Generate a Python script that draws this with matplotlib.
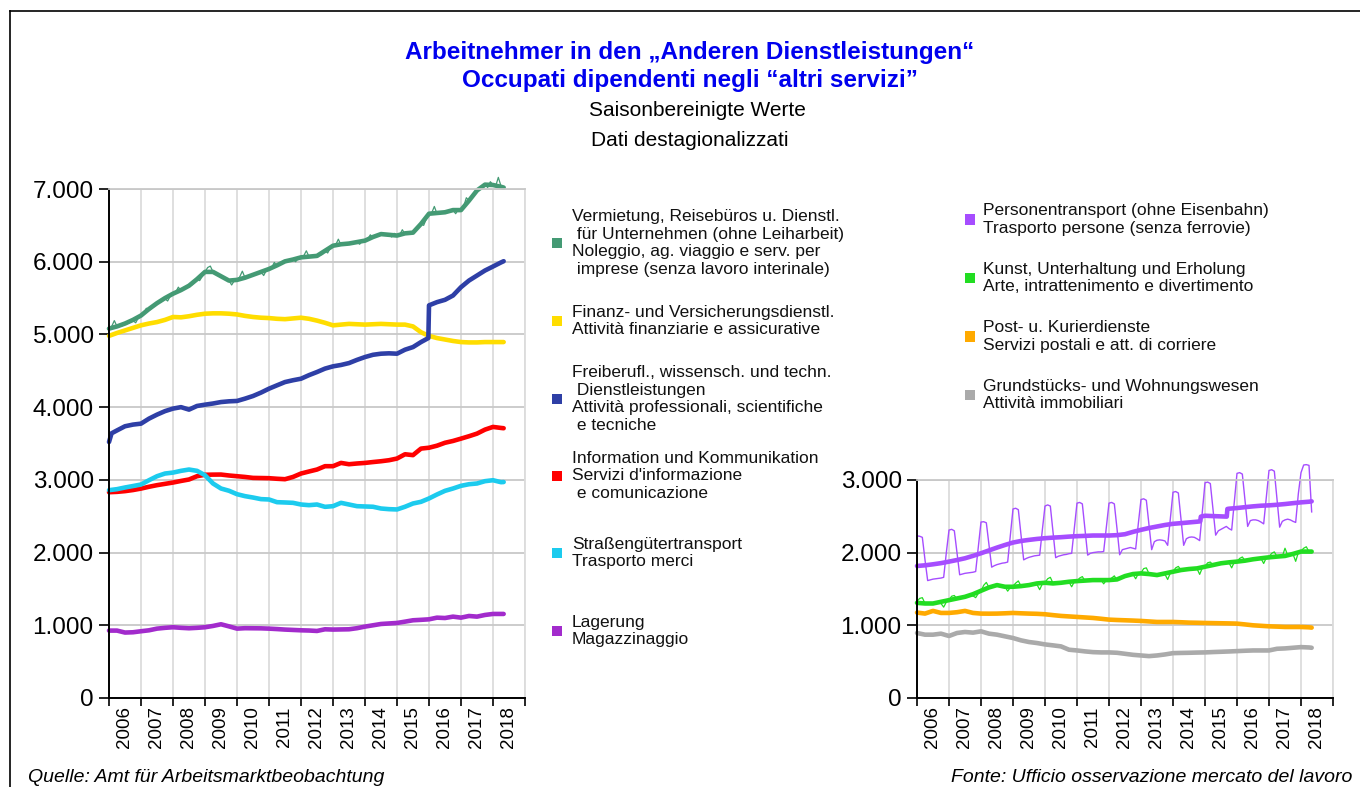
import numpy as np
import matplotlib
matplotlib.use('Agg')
import matplotlib.pyplot as plt
from matplotlib.patches import Rectangle
from matplotlib.lines import Line2D
from matplotlib.ticker import FuncFormatter, FixedLocator

plt.rcParams['font.family'] = ['Liberation Sans', 'DejaVu Sans']

W, H = 1360, 787

# ---- data (thousand employees, decimal years) ----
quarters = np.r_[2006 + np.arange(50) * 0.25, 2018 + 1 / 3]
months = 2006 + np.arange(149) / 12

# left panel, seasonally adjusted (quarterly readings)
verm = [5080, 5110, 5150, 5200, 5260, 5350, 5430, 5500, 5560, 5610, 5670, 5760,
        5860, 5860, 5800, 5740, 5750, 5780, 5820, 5860, 5900, 5950, 6005, 6030,
        6060, 6070, 6080, 6150, 6220, 6240, 6250, 6270, 6290, 6340, 6380, 6370,
        6360, 6390, 6400, 6520, 6660, 6670, 6680, 6710, 6710, 6840, 6980, 7060,
        7055, 7030, 7020]
finanz = [4980, 5020, 5055, 5090, 5125, 5150, 5170, 5200, 5240, 5235, 5250, 5270,
          5285, 5290, 5290, 5285, 5275, 5255, 5240, 5230, 5225, 5215, 5210, 5220,
          5230, 5215, 5190, 5160, 5125, 5135, 5145, 5140, 5135, 5140, 5145, 5140,
          5135, 5135, 5110, 5030, 4980, 4950, 4930, 4910, 4895, 4890, 4890, 4895,
          4895, 4895, 4895]
info = [2830, 2835, 2845, 2860, 2880, 2905, 2927, 2945, 2963, 2985, 3005, 3050,
        3070, 3072, 3073, 3060, 3050, 3040, 3027, 3025, 3023, 3015, 3009, 3040,
        3087, 3115, 3142, 3188, 3188, 3233, 3215, 3225, 3233, 3245, 3256, 3270,
        3293, 3352, 3340, 3430, 3442, 3470, 3510, 3535, 3567, 3600, 3636, 3691,
        3728, 3714, 3710]
strasse = [2858, 2872, 2895, 2915, 2936, 2995, 3050, 3087, 3100, 3124, 3142, 3124,
           3064, 2950, 2881, 2850, 2803, 2776, 2757, 2735, 2730, 2693, 2689, 2684,
           2661, 2652, 2661, 2629, 2638, 2684, 2661, 2638, 2634, 2630, 2606, 2597,
           2593, 2630, 2675, 2698, 2744, 2799, 2849, 2881, 2918, 2940, 2950, 2982,
           2995, 2968, 2970]
lager = [927, 927, 900, 904, 918, 931, 954, 965, 973, 965, 959, 965,
         973, 991, 1014, 985, 954, 960, 959, 958, 954, 948, 941, 936,
         931, 928, 922, 945, 941, 943, 945, 960, 982, 1000, 1018, 1025,
         1032, 1050, 1069, 1075, 1082, 1105, 1100, 1119, 1105, 1128, 1119, 1142,
         1156, 1156, 1156]
frei_dates = np.sort(np.r_[quarters, 2006.08, 2015.98])
frei = [3520, 3640, 3680, 3737, 3760, 3773, 3842, 3897, 3945, 3980, 4000, 3966, 4016,
        4034, 4050, 4070, 4080, 4085, 4117, 4153, 4200, 4254, 4300, 4345, 4370,
        4391, 4440, 4483, 4530, 4561, 4580, 4606, 4650, 4689, 4720, 4735, 4740,
        4735, 4790, 4826, 4895, 4950, 5400, 5444, 5476, 5535, 5650, 5741, 5810, 5879,
        5934, 5990, 6007]

# left panel, raw monthly values (Vermietung)
verm_raw = np.concatenate([
    [5060, 5110, 5190, 5110, 5110, 5120, 5140, 5150, 5170, 5190, 5160, 5230],
    [5250, 5290, 5360, 5330, 5360, 5390, 5420, 5440, 5460, 5490, 5460, 5530],
    [5550, 5580, 5650, 5600, 5620, 5640, 5660, 5680, 5710, 5760, 5740, 5800],
    [5860, 5920, 5940, 5860, 5850, 5830, 5800, 5790, 5770, 5740, 5680, 5740],
    [5750, 5790, 5870, 5780, 5790, 5800, 5810, 5830, 5840, 5860, 5810, 5880],
    [5890, 5920, 5990, 5940, 5960, 5980, 6000, 6010, 6020, 6030, 6000, 6050],
    [6060, 6080, 6150, 6070, 6070, 6080, 6080, 6090, 6100, 6150, 6120, 6190],
    [6210, 6230, 6310, 6230, 6240, 6250, 6250, 6260, 6270, 6270, 6240, 6290],
    [6290, 6310, 6370, 6330, 6350, 6370, 6380, 6380, 6380, 6370, 6340, 6390],
    [6360, 6370, 6440, 6380, 6390, 6400, 6400, 6440, 6480, 6520, 6500, 6590],
    [6660, 6670, 6760, 6660, 6670, 6680, 6680, 6690, 6700, 6710, 6660, 6720],
    [6710, 6760, 6880, 6840, 6900, 6950, 6980, 7010, 7040, 7060, 7020, 7100],
    [7060, 7040, 7160, 7040, 7020],
])

# right panel, seasonally adjusted
kunst = [1309, 1300, 1300, 1323, 1346, 1369, 1392, 1428, 1475, 1521, 1553, 1530,
         1530, 1539, 1553, 1576, 1585, 1576, 1585, 1599, 1608, 1615, 1622, 1622,
         1622, 1631, 1677, 1705, 1714, 1705, 1691, 1714, 1737, 1760, 1774, 1783,
         1806, 1829, 1853, 1866, 1876, 1889, 1908, 1922, 1935, 1945, 1954, 1982,
         2014, 2014, 2014]
post = [1175, 1161, 1198, 1170, 1170, 1180, 1198, 1170, 1161, 1160, 1161, 1165,
        1170, 1165, 1161, 1158, 1152, 1140, 1129, 1122, 1115, 1108, 1101, 1090,
        1078, 1073, 1069, 1065, 1060, 1053, 1046, 1046, 1046, 1042, 1037, 1035,
        1032, 1030, 1028, 1026, 1023, 1012, 1000, 993, 986, 982, 977, 977,
        977, 972, 968]
grund = [894, 871, 871, 885, 853, 894, 908, 899, 917, 885, 871, 848,
         825, 793, 770, 756, 737, 724, 710, 664, 654, 641, 631, 627,
         627, 622, 608, 594, 585, 576, 585, 599, 617, 620, 622, 625,
         627, 632, 636, 640, 645, 650, 654, 654, 654, 677, 682, 691,
         700, 695, 691]
pers_dates = np.sort(np.r_[quarters, 2014.85, 2014.87, 2015.68, 2015.70])
pers = [1816, 1825, 1839, 1855, 1876, 1898, 1922, 1955, 1991, 2030, 2069, 2105,
        2138, 2160, 2175, 2188, 2198, 2206, 2212, 2220, 2226, 2230, 2235, 2235,
        2235, 2240, 2253, 2285, 2313, 2338, 2359, 2380, 2396, 2405, 2415, 2425,
        2430, 2495, 2507, 2502, 2498, 2495, 2600, 2604, 2613, 2625, 2636, 2645,
        2650, 2658, 2668, 2680, 2691, 2700, 2705]

# right panel, raw monthly values
pers_raw = np.concatenate([
    [2230, 2225, 2210, 1900, 1615, 1625, 1635, 1640, 1645, 1650, 1660, 2000],
    [2310, 2320, 2300, 2000, 1695, 1705, 1715, 1720, 1725, 1730, 1740, 2080],
    [2420, 2425, 2410, 2100, 1800, 1820, 1835, 1845, 1855, 1860, 1870, 2240],
    [2600, 2610, 2590, 2250, 1900, 1920, 1935, 1945, 1955, 1960, 1965, 2310],
    [2640, 2656, 2640, 2290, 1930, 1950, 1960, 1970, 1975, 1985, 1990, 2340],
    [2680, 2690, 2670, 2320, 1965, 1990, 2000, 2005, 2010, 2010, 2015, 2350],
    [2680, 2690, 2670, 2330, 1970, 2040, 2050, 2060, 2070, 2060, 2050, 2400],
    [2730, 2740, 2720, 2380, 2040, 2150, 2170, 2175, 2170, 2160, 2100, 2470],
    [2830, 2840, 2820, 2460, 2100, 2190, 2210, 2215, 2210, 2190, 2165, 2560],
    [2960, 2970, 2950, 2600, 2240, 2300, 2320, 2340, 2360, 2330, 2310, 2700],
    [3090, 3100, 3080, 2720, 2360, 2440, 2450, 2450, 2440, 2420, 2395, 2770],
    [3130, 3140, 3120, 2740, 2350, 2430, 2450, 2460, 2450, 2430, 2415, 2810],
    [3100, 3205, 3210, 3200, 2560],
])
kunst_raw = np.concatenate([
    [1330, 1370, 1380, 1300, 1290, 1300, 1300, 1300, 1310, 1300, 1250, 1320],
    [1350, 1400, 1410, 1360, 1370, 1380, 1385, 1395, 1400, 1405, 1380, 1440],
    [1470, 1550, 1590, 1520, 1530, 1540, 1550, 1555, 1545, 1530, 1470, 1520],
    [1540, 1580, 1610, 1540, 1540, 1545, 1550, 1555, 1560, 1560, 1490, 1570],
    [1590, 1640, 1660, 1580, 1570, 1575, 1580, 1585, 1590, 1595, 1530, 1600],
    [1610, 1650, 1670, 1610, 1615, 1615, 1620, 1620, 1625, 1625, 1570, 1620],
    [1620, 1650, 1680, 1620, 1640, 1660, 1680, 1690, 1700, 1700, 1640, 1710],
    [1720, 1780, 1790, 1710, 1700, 1700, 1690, 1690, 1700, 1700, 1630, 1720],
    [1740, 1790, 1810, 1760, 1765, 1770, 1775, 1780, 1785, 1780, 1700, 1790],
    [1810, 1860, 1870, 1830, 1835, 1845, 1855, 1860, 1865, 1860, 1790, 1870],
    [1880, 1920, 1940, 1890, 1895, 1900, 1910, 1915, 1920, 1920, 1850, 1930],
    [1940, 1990, 2010, 1945, 1950, 1950, 2060, 1965, 1975, 1980, 1880, 2000],
    [2020, 2060, 2080, 2010, 2010],
])

years = list(range(2006, 2019))

left_labels = [
    "Vermietung, Reisebüros u. Dienstl.\n für Unternehmen (ohne Leiharbeit)\n"
    "Noleggio, ag. viaggio e serv. per\n imprese (senza lavoro interinale)",
    "Finanz- und Versicherungsdienstl.\nAttività finanziarie e assicurative",
    "Freiberufl., wissensch. und techn.\n Dienstleistungen\n"
    "Attività professionali, scientifiche\n e tecniche",
    "Information und Kommunikation\nServizi d'informazione\n e comunicazione",
    "Straßengütertransport\nTrasporto merci",
    "Lagerung\nMagazzinaggio",
]
right_labels = [
    "Personentransport (ohne Eisenbahn)\nTrasporto persone (senza ferrovie)",
    "Kunst, Unterhaltung und Erholung\nArte, intrattenimento e divertimento",
    "Post- u. Kurierdienste\nServizi postali e att. di corriere",
    "Grundstücks- und Wohnungswesen\nAttività immobiliari",
]

c_verm, c_fin, c_frei = '#449a74', '#ffdd00', '#2e3fa6'
c_info, c_str, c_lag = '#ff0000', '#1ccbee', '#a22bcc'
c_pers, c_kun, c_post, c_gr = '#a64dff', '#22dd22', '#ffaa00', '#aaaaaa'


def fx(px):
    return px / W


def fy(py):
    return 1 - py / H


def style_axes(ax, ymax):
    ax.set_xlim(2006, 2019)
    ax.set_ylim(0, ymax)
    ax.xaxis.set_major_locator(FixedLocator(years + [2019]))
    ax.xaxis.set_minor_locator(FixedLocator([y + 0.5 for y in years]))
    ax.set_xticklabels([])
    ax.set_xticklabels([str(y) for y in years], minor=True, rotation=90,
                       fontsize=13.5)
    ax.tick_params(axis='x', which='minor', length=0, pad=6)
    ax.tick_params(axis='x', which='major', length=6, width=1.2, color='black')
    ax.set_yticks(np.arange(0, ymax + 1, 1000))
    ax.yaxis.set_major_formatter(
        FuncFormatter(lambda v, p: f"{v:,.0f}".replace(',', '.')))
    ax.tick_params(axis='y', labelsize=17.5, length=7, width=1.2, pad=4)
    ax.grid(True, which='major', axis='x', color='#dcdcdc', lw=1.3)
    ax.grid(True, which='major', axis='y', color='#c8c8c8', lw=1.3)
    ax.set_axisbelow(True)
    ax.spines['top'].set_color('#c8c8c8')
    ax.spines['right'].set_color('#dcdcdc')
    for s in ('top', 'right'):
        ax.spines[s].set_linewidth(1.3)
    for s in ('left', 'bottom'):
        ax.spines[s].set_color('black')
        ax.spines[s].set_linewidth(1.4)


fig = plt.figure(figsize=(W / 100, H / 100), dpi=100)

# left panel
ax1 = fig.add_axes([fx(109), fy(698), fx(416), 509 / H])
style_axes(ax1, 7000)
thick = dict(lw=3.3, solid_capstyle='round', clip_on=False)
ax1.plot(quarters, finanz, color=c_fin, **thick)
ax1.plot(frei_dates, frei, color=c_frei, **thick)
ax1.plot(quarters, info, color=c_info, **thick)
ax1.plot(quarters, strasse, color=c_str, **thick)
ax1.plot(quarters, lager, color=c_lag, **thick)
ax1.plot(months, verm_raw, color=c_verm, lw=0.9, clip_on=False)
ax1.plot(quarters, verm, color=c_verm, **thick)

# right panel
ax2 = fig.add_axes([fx(917), fy(698), fx(416), 218.1 / H])
style_axes(ax2, 3000)
ax2.plot(quarters, grund, color=c_gr, **thick)
ax2.plot(quarters, post, color=c_post, **thick)
ax2.plot(months, kunst_raw, color=c_kun, lw=0.9, clip_on=False)
ax2.plot(quarters, kunst, color=c_kun, **thick)
ax2.plot(months, pers_raw, color=c_pers, lw=1.0, clip_on=False)
ax2.plot(pers_dates, pers, color=c_pers, **thick)

# legends
def legend_block(labels, colors, centers, x_sq, x_txt):
    for lab, col, cy in zip(labels, colors, centers):
        fig.patches.append(Rectangle((fx(x_sq - 5), fy(cy + 5)), fx(10), 10 / H,
                                     transform=fig.transFigure,
                                     facecolor=col, edgecolor='none'))
        fig.text(fx(x_txt), fy(cy), lab, fontsize=12.5, va='center', ha='left',
                 linespacing=1.2, color='#111111')


legend_block(left_labels, [c_verm, c_fin, c_frei, c_info, c_str, c_lag],
             [243, 321, 399, 476, 553, 631], 557, 572)
legend_block(right_labels, [c_pers, c_kun, c_post, c_gr],
             [219.5, 278, 336.5, 395], 970, 983)

# titles
fig.text(fx(690), fy(52), "Arbeitnehmer in den „Anderen Dienstleistungen“",
         ha='center', va='center', fontsize=17.5, fontweight='bold', color='#0000ee')
fig.text(fx(690), fy(80), "Occupati dipendenti negli “altri servizi”",
         ha='center', va='center', fontsize=17.5, fontweight='bold', color='#0000ee')
fig.text(fx(697), fy(111), "Saisonbereinigte Werte", ha='center', va='center',
         fontsize=15)
fig.text(fx(690), fy(140), "Dati destagionalizzati", ha='center', va='center',
         fontsize=15)

fig.text(fx(28), fy(778), "Quelle: Amt für Arbeitsmarktbeobachtung",
         ha='left', va='center', fontsize=14, style='italic')
fig.text(fx(1352), fy(778), "Fonte: Ufficio osservazione mercato del lavoro",
         ha='right', va='center', fontsize=14, style='italic')

# outer frame (top and left edge)
fig.add_artist(Line2D([fx(10), 1], [fy(11), fy(11)], color='black', lw=1.2))
fig.add_artist(Line2D([fx(10), fx(10)], [fy(11), 0], color='black', lw=1.2))

fig.savefig('out.png', dpi=100)
plt.close(fig)
